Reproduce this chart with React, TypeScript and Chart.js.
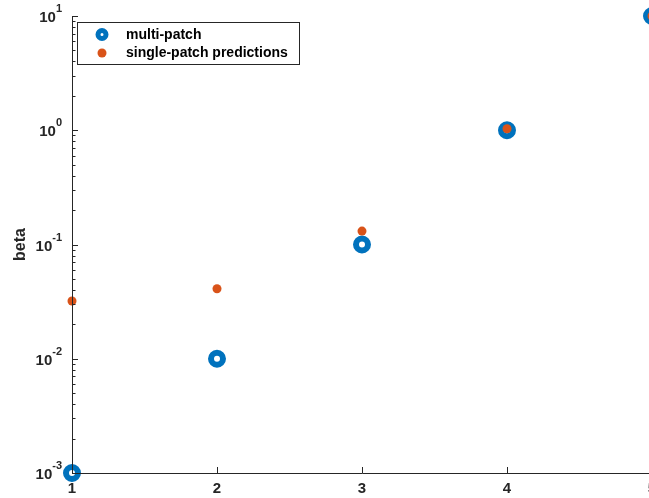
import React, { useEffect, useRef } from "react";
import { Chart, registerables } from "chart.js";
Chart.register(...registerables);

const xValues = [1, 2, 3, 4, 5];
const multiPatch = [0.001, 0.01, 0.1, 1, 10];
const singlePatch = [0.032, 0.041, 0.131, 1.03, 10];
const seriesNames = ["multi-patch", "single-patch predictions"];
const xTicks = [1, 2, 3, 4, 5];
const yTickExponents = [-3, -2, -1, 0, 1];
const yLabel = "beta";

const BLUE = "#0072BD";
const ORANGE = "#D95319";
const AXIS = "#262626";
const FONT = "'Liberation Sans', Arial, sans-serif";

const axesPlugin = {
  id: "matlabAxes",
  afterDatasetsDraw(chart: any) {
    const { ctx, chartArea } = chart;
    const xs = chart.scales.x;
    const ys = chart.scales.y;
    ctx.save();
    ctx.strokeStyle = AXIS;
    ctx.lineWidth = 1;
    // axis lines
    ctx.beginPath();
    ctx.moveTo(chartArea.left + 0.5, chartArea.top);
    ctx.lineTo(chartArea.left + 0.5, chartArea.bottom + 0.5);
    ctx.lineTo(chartArea.right, chartArea.bottom + 0.5);
    ctx.stroke();
    // x ticks
    ctx.beginPath();
    xTicks.forEach((t) => {
      const px = Math.round(xs.getPixelForValue(t)) + 0.5;
      ctx.moveTo(px, chartArea.bottom);
      ctx.lineTo(px, chartArea.bottom - 6);
    });
    // y ticks major + minor
    yTickExponents.forEach((e, i) => {
      const py = Math.round(ys.getPixelForValue(Math.pow(10, e))) + 0.5;
      ctx.moveTo(chartArea.left, py);
      ctx.lineTo(chartArea.left + 6, py);
      if (i < yTickExponents.length - 1) {
        for (let m = 2; m <= 9; m++) {
          const my = Math.round(ys.getPixelForValue(m * Math.pow(10, e))) + 0.5;
          ctx.moveTo(chartArea.left, my);
          ctx.lineTo(chartArea.left + 3.5, my);
        }
      }
    });
    ctx.stroke();

    ctx.fillStyle = AXIS;
    // x labels
    ctx.font = `bold 15px ${FONT}`;
    ctx.textAlign = "center";
    ctx.textBaseline = "middle";
    xTicks.forEach((t) => {
      ctx.fillText(String(t), xs.getPixelForValue(t), chartArea.bottom + 16);
    });
    // y labels 10^e
    yTickExponents.forEach((e) => {
      const py = ys.getPixelForValue(Math.pow(10, e));
      ctx.font = `bold 11px ${FONT}`;
      const expStr = String(e);
      const ew = ctx.measureText(expStr).width;
      ctx.textAlign = "left";
      ctx.textBaseline = "middle";
      const right = chartArea.left - 10;
      ctx.fillText(expStr, right - ew, py - 7);
      ctx.font = `bold 15px ${FONT}`;
      ctx.textAlign = "right";
      ctx.fillText("10", right - ew, py + 2);
    });
    // y title
    ctx.save();
    ctx.translate(21, (chartArea.top + chartArea.bottom) / 2);
    ctx.rotate(-Math.PI / 2);
    ctx.font = `bold 16px ${FONT}`;
    ctx.textAlign = "center";
    ctx.textBaseline = "middle";
    ctx.fillText(yLabel, 0, 0);
    ctx.restore();

    // legend
    const lx = 77.5, ly = 22.5, lw = 222, lh = 42;
    ctx.fillStyle = "#ffffff";
    ctx.fillRect(lx, ly, lw, lh);
    ctx.lineWidth = 1;
    ctx.strokeStyle = AXIS;
    ctx.strokeRect(lx, ly, lw, lh);
    // blue ring marker
    ctx.beginPath();
    ctx.arc(102, 34.5, 4, 0, Math.PI * 2);
    ctx.fillStyle = "#ffffff";
    ctx.fill();
    ctx.lineWidth = 5;
    ctx.strokeStyle = BLUE;
    ctx.stroke();
    // orange
    ctx.beginPath();
    ctx.arc(102, 53, 4.5, 0, Math.PI * 2);
    ctx.fillStyle = ORANGE;
    ctx.fill();
    ctx.fillStyle = "#000000";
    ctx.font = `bold 14px ${FONT}`;
    ctx.textAlign = "left";
    ctx.textBaseline = "middle";
    ctx.fillText(seriesNames[0], 126, 35);
    ctx.fillText(seriesNames[1], 126, 53.5);
    ctx.restore();
  },
};

export default function App() {
  const ref = useRef<HTMLCanvasElement>(null);
  useEffect(() => {
    if (!ref.current) return;
    const chart = new Chart(ref.current, {
      type: "scatter",
      data: {
        datasets: [
          {
            label: seriesNames[0],
            data: xValues.map((x, i) => ({ x, y: multiPatch[i] })),
            pointRadius: 6,
            pointBorderWidth: 6,
            pointBackgroundColor: "#ffffff",
            pointBorderColor: BLUE,
            showLine: false,
            clip: false,
            order: 2,
          },
          {
            label: seriesNames[1],
            data: xValues.map((x, i) => ({ x, y: singlePatch[i] })),
            pointRadius: 4.5,
            pointBorderWidth: 0,
            pointBackgroundColor: ORANGE,
            pointBorderColor: ORANGE,
            showLine: false,
            clip: false,
            order: 1,
          },
        ],
      },
      options: {
        responsive: false,
        animation: false,
        layout: { padding: { left: 0, top: 16, right: 68, bottom: 0 } },
        plugins: { legend: { display: false }, tooltip: { enabled: false } },
        scales: {
          x: {
            type: "linear",
            min: 1,
            max: 5,
            grid: { display: false },
            border: { display: false },
            ticks: { display: false },
            afterFit: (s: any) => { s.height = 25; },
          },
          y: {
            type: "logarithmic",
            min: 0.001,
            max: 10,
            grid: { display: false },
            border: { display: false },
            ticks: { display: false },
            afterFit: (s: any) => { s.width = 72; },
          },
        },
      } as any,
      plugins: [axesPlugin],
    });
    return () => chart.destroy();
  }, []);
  return (
    <div style={{ position: "fixed", left: 0, top: 0, width: 649, height: 498, overflow: "hidden", background: "#fff" }}>
      <canvas ref={ref} width={720} height={498} style={{ width: 720, height: 498, display: "block" }} />
    </div>
  );
}
